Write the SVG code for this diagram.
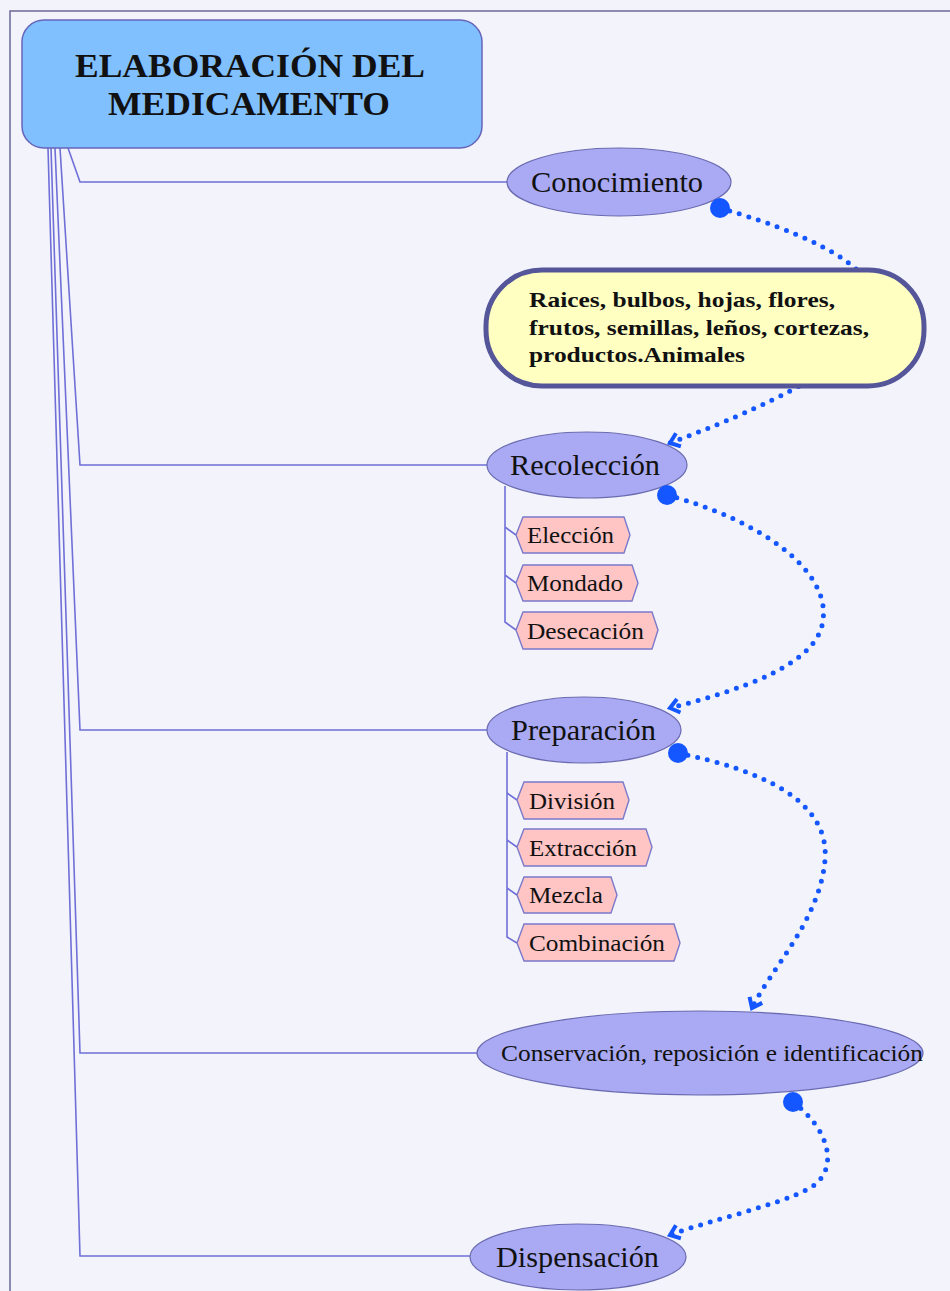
<svg xmlns="http://www.w3.org/2000/svg" width="950" height="1291" viewBox="0 0 950 1291">
<defs>
<style>
.bg{fill:#f3f3fb}
.frame{fill:none;stroke:#6a6a9a;stroke-width:1.5}
.trunk{fill:none;stroke:#6f6fd8;stroke-width:1.6}
.ell{fill:#aaaaf4;stroke:#6a6ab0;stroke-width:1.2}
.tag{fill:#ffc4c4;stroke:#7a7acc;stroke-width:1.4}
.dot{fill:none;stroke:#1456ff;stroke-width:5;stroke-dasharray:0 10;stroke-linecap:round}
.t{font-family:'Liberation Serif','Times New Roman',serif;fill:#111}
.ttl{font-size:34px;font-weight:bold;text-anchor:middle}
.lab{font-size:29px}
.tg{font-size:24px}
.nt{font-size:21px;font-weight:bold}
</style>
<marker id="arr" viewBox="-2 -9 14 18" markerWidth="14" markerHeight="18" refX="9" refY="0" orient="auto" markerUnits="userSpaceOnUse">
<path d="M0,-7 L9,0 L0,7" fill="none" stroke="#1456ff" stroke-width="4"/>
</marker>
</defs>
<rect class="bg" x="0" y="0" width="950" height="1291"/>
<path class="frame" d="M10,1291 V11 H950"/>

<g id="connectors">
<path class="trunk" d="M68,148 L80,182 H507"/>
<path class="trunk" d="M60,148 L80,465 H487"/>
<path class="trunk" d="M55,148 L80,730 H487"/>
<path class="trunk" d="M51,148 L80,1053 H477"/>
<path class="trunk" d="M48,148 L80,1256 H470"/>
<path class="trunk" d="M505,486 V622 L516,630 M505,527 L516,535 M505,575 L516,583"/>
<path class="trunk" d="M507,752 V937 L517,943 M507,793 L517,800 M507,840 L517,847 M507,888 L517,895"/>
<path class="dot" d="M720,208 C950,275 920,350 670,443" marker-end="url(#arr)"/>
<path class="dot" d="M667,495 C760,520 830,570 823,620 C818,665 740,690 670,708" marker-end="url(#arr)"/>
<path class="dot" d="M678,753 C760,770 830,800 825,860 C820,920 770,970 752,1008" marker-end="url(#arr)"/>
<path class="dot" d="M793,1102 C830,1130 840,1170 810,1188 C780,1205 710,1220 670,1235" marker-end="url(#arr)"/>
</g>

<g id="root">
<rect x="22" y="20" width="460" height="128" rx="22" fill="#80c0ff" stroke="#6666bb" stroke-width="1.5"/>
<text class="t ttl" x="250" y="77" textLength="350" lengthAdjust="spacingAndGlyphs">ELABORACIÓN DEL</text>
<text class="t ttl" x="249" y="115" textLength="282" lengthAdjust="spacingAndGlyphs">MEDICAMENTO</text>
</g>

<g id="conocimiento">
<ellipse class="ell" cx="619" cy="182" rx="112" ry="34"/>
<text class="t lab" x="531" y="192" textLength="172" lengthAdjust="spacingAndGlyphs">Conocimiento</text>
</g>

<g id="nota">
<rect x="486" y="270" width="438" height="116" rx="56" fill="#ffffc2" stroke="#55559a" stroke-width="5"/>
<text class="t nt" x="529" y="307" textLength="306" lengthAdjust="spacingAndGlyphs">Raices, bulbos, hojas, flores,</text>
<text class="t nt" x="529" y="335" textLength="340" lengthAdjust="spacingAndGlyphs">frutos, semillas, leños, cortezas,</text>
<text class="t nt" x="529" y="362" textLength="216" lengthAdjust="spacingAndGlyphs">productos.Animales</text>
</g>

<g id="recoleccion">
<ellipse class="ell" cx="587" cy="465" rx="100" ry="33"/>
<text class="t lab" x="510" y="475" textLength="150" lengthAdjust="spacingAndGlyphs">Recolección</text>
</g>
<g id="eleccion">
<polygon class="tag" points="516,535 523,517 624,517 630,535 624,553 523,553"/>
<text class="t tg" x="527" y="543" textLength="87" lengthAdjust="spacingAndGlyphs">Elección</text>
</g>
<g id="mondado">
<polygon class="tag" points="516,583 523,565 632,565 638,583 632,601 523,601"/>
<text class="t tg" x="527" y="591" textLength="96" lengthAdjust="spacingAndGlyphs">Mondado</text>
</g>
<g id="desecacion">
<polygon class="tag" points="516,630 523,612 652,612 658,630 652,649 523,649"/>
<text class="t tg" x="527" y="639" textLength="117" lengthAdjust="spacingAndGlyphs">Desecación</text>
</g>

<g id="preparacion">
<ellipse class="ell" cx="584" cy="730" rx="97" ry="33"/>
<text class="t lab" x="511" y="740" textLength="145" lengthAdjust="spacingAndGlyphs">Preparación</text>
</g>
<g id="division">
<polygon class="tag" points="517,800 524,782 623,782 629,800 623,819 524,819"/>
<text class="t tg" x="529" y="809" textLength="86" lengthAdjust="spacingAndGlyphs">División</text>
</g>
<g id="extraccion">
<polygon class="tag" points="517,847 524,829 646,829 652,847 646,866 524,866"/>
<text class="t tg" x="529" y="856" textLength="108" lengthAdjust="spacingAndGlyphs">Extracción</text>
</g>
<g id="mezcla">
<polygon class="tag" points="517,895 524,877 611,877 617,895 611,913 524,913"/>
<text class="t tg" x="529" y="903" textLength="74" lengthAdjust="spacingAndGlyphs">Mezcla</text>
</g>
<g id="combinacion">
<polygon class="tag" points="517,943 524,924 674,924 680,943 674,961 524,961"/>
<text class="t tg" x="529" y="951" textLength="136" lengthAdjust="spacingAndGlyphs">Combinación</text>
</g>

<g id="conservacion">
<ellipse class="ell" cx="700" cy="1053" rx="223" ry="42"/>
<text class="t" font-size="23" x="501" y="1061" textLength="422" lengthAdjust="spacingAndGlyphs">Conservación, reposición e identificación</text>
</g>

<g id="dispensacion">
<ellipse class="ell" cx="578" cy="1257" rx="108" ry="33"/>
<text class="t lab" x="496" y="1267" textLength="163" lengthAdjust="spacingAndGlyphs">Dispensación</text>
</g>

<g id="startdots">
<circle cx="720" cy="208" r="10" fill="#1456ff"/>
<circle cx="667" cy="495" r="10" fill="#1456ff"/>
<circle cx="678" cy="753" r="10" fill="#1456ff"/>
<circle cx="793" cy="1102" r="10" fill="#1456ff"/>
</g>
</svg>
